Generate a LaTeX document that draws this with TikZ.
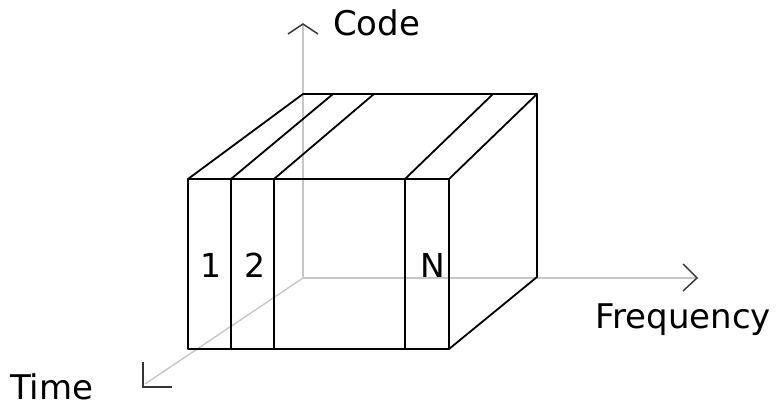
\documentclass[tikz,border=0pt]{standalone}
\usepackage{fontspec}
\setmainfont{DejaVu Sans}
\begin{document}
\begin{tikzpicture}[x=1pt,y=-1pt,
  edge/.style={draw=black,line width=1.8pt,line join=round,line cap=round},
  axis/.style={draw=black!22,line width=1.4pt},
  tip/.style={draw=black!80,line width=1.4pt,line join=miter},
  lbl/.style={font=\fontsize{34}{40}\selectfont,inner sep=0pt,anchor=base west},
  num/.style={font=\fontsize{33}{38}\selectfont,inner sep=0pt}]
\useasboundingbox (0,0) rectangle (778,406);
% axes
\coordinate (O) at (303,278);
\coordinate (Ctop) at (303,24);
\coordinate (Fend) at (697,278);
\coordinate (Tend) at (145,384);
\draw[axis] (O) -- (Ctop);
\draw[axis] (O) -- (Fend);
\draw[axis] (O) -- (Tend);
\draw[tip] (288,34) -- (Ctop) -- (318,34);
\draw[tip] (683,264) -- (Fend) -- (683,291);
\draw[tip] (143,362) -- (143,387) -- (172,387);
% front face
\coordinate (f1t) at (188,179); \coordinate (f1b) at (188,349);
\coordinate (f2t) at (231,179); \coordinate (f2b) at (231,349);
\coordinate (f3t) at (274,179); \coordinate (f3b) at (274,349);
\coordinate (f4t) at (405,179); \coordinate (f4b) at (405,349);
\coordinate (f5t) at (449,179); \coordinate (f5b) at (449,349);
% back top
\coordinate (b1) at (303,94);
\coordinate (b2) at (333,94);
\coordinate (b3) at (374,94);
\coordinate (b4) at (493,94);
\coordinate (b5) at (537,94);
\coordinate (b5b) at (537,277);
\draw[edge] (f1t) -- (f5t) -- (f5b) -- (f1b) -- cycle;
\draw[edge] (f2t) -- (f2b);
\draw[edge] (f3t) -- (f3b);
\draw[edge] (f4t) -- (f4b);
\draw[edge] (b1) -- (b5) -- (b5b) -- (f5b);
\draw[edge] (f1t) -- (b1);
\draw[edge] (f2t) -- (b2);
\draw[edge] (f3t) -- (b3);
\draw[edge] (f4t) -- (b4);
\draw[edge] (f5t) -- (b5);
% labels
\node[num] (n1) at (211,265) {1};
\node[num] (n2) at (255,265) {2};
\node[num] (nN) at (433,265) {N};
\node[lbl] (code) at (333,36) {Code};
\node[lbl] (freq) at (595,328) {Frequency};
\node[lbl] (time) at (10,399) {Time};
\end{tikzpicture}
\end{document}
